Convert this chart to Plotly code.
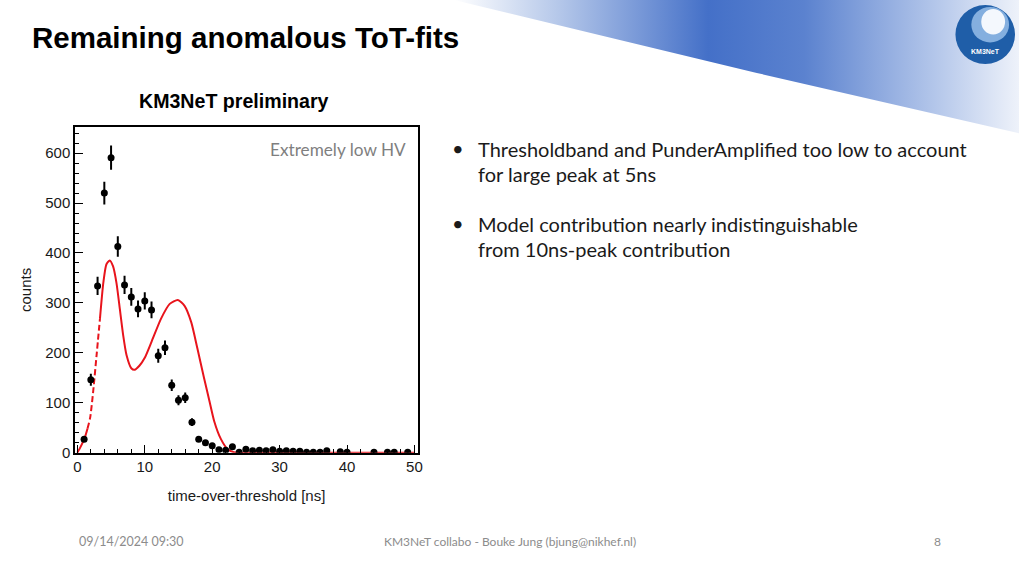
import plotly.graph_objects as go

# ---------------- data ----------------
tot_ns = [1, 2, 3, 4, 5, 6, 7, 8, 9, 10, 11, 12, 13, 14, 15, 16, 17, 18, 19, 20,
          21, 22, 23, 24, 25, 26, 27, 28, 29, 30, 31, 32, 33, 34, 35, 36, 37, 39,
          40, 44, 46, 47, 49]
counts = [27, 146, 334, 520, 591, 413, 336, 312, 288, 304, 286, 194, 210, 135,
          105, 110, 61, 27, 20, 14, 6, 5, 12, 1, 7, 4, 5, 4, 6, 3, 4, 3, 3, 1, 1,
          1, 4, 2, 1, 1, 1, 1, 1]
count_err = [5.2, 12.1, 18.3, 22.8, 24.3, 20.3, 18.3, 17.7, 17.0, 17.4, 16.9,
             13.9, 14.5, 11.6, 10.2, 10.5, 7.8, 5.2, 4.5, 3.7, 2.4, 2.2, 3.5, 1.0,
             2.6, 2.0, 2.2, 2.0, 2.4, 1.7, 2.0, 1.7, 1.7, 1.0, 1.0, 1.0, 2.0, 1.4,
             1.0, 1.0, 1.0, 1.0, 1.0]

fit_x = [0, 0.5, 1.1, 1.5, 1.9, 2.35, 2.85, 3.35, 3.85, 4.3, 4.8, 5.3, 5.8, 6.3,
         6.8, 7.3, 8.0, 8.5, 9.2, 10.0, 11.0, 12.4, 13.7, 14.9, 15.9, 16.9, 17.8,
         18.8, 19.6, 20.3, 21.3, 22.3, 23.2, 24.0, 30.0, 40.0, 50.0]
fit_y = [0, 12, 30, 48, 70, 123, 195, 268, 340, 377, 385, 373, 340, 288, 235,
         195, 169, 166, 174, 190, 222, 268, 298, 306, 294, 261, 209, 149, 103,
         63, 27, 7, 1, 0, 0, 0, 0]

x_ticks = [0, 10, 20, 30, 40, 50]
y_ticks = [0, 100, 200, 300, 400, 500, 600]

W, H = 1024, 576
FONT = "Liberation Sans, Arial, sans-serif"
BODY = "Lato, Noto Sans, sans-serif"
RED = "#e8141c"

fig = go.Figure()

# fit curve: solid / dashed (steep rise) / solid
i1, i2 = 3, 7
seg = [(0, i1 + 1, "solid"), (i1, i2 + 1, "6px,3px"), (i2, len(fit_x), "solid")]
for a, b, d in seg:
    fig.add_trace(go.Scatter(
        x=fit_x[a:b], y=fit_y[a:b], mode="lines",
        line=dict(color=RED, width=2, dash=d, shape="spline", smoothing=0.6),
        hoverinfo="skip", showlegend=False, xaxis="x", yaxis="y"))

# data points
fig.add_trace(go.Scatter(
    x=tot_ns, y=counts, mode="markers",
    marker=dict(color="black", size=7),
    error_y=dict(type="data", array=count_err, color="black", thickness=2, width=0),
    showlegend=False, xaxis="x", yaxis="y"))

# ---------- decoration (page coordinates) ----------
sw_x = [455, 1024, 1024, 900, 760, 620, 455]
sw_y = [0, 0, 135, 106, 74, 40, 0]
fig.add_trace(go.Scatter(
    x=sw_x, y=sw_y, mode="lines", fill="toself",
    line=dict(width=0, color="rgba(0,0,0,0)"),
    fillgradient=dict(type="horizontal",
                      colorscale=[[0, "rgba(255,255,255,1)"],
                                  [0.18, "#b7c9ea"],
                                  [0.45, "#4470c8"],
                                  [0.62, "#5b82cf"],
                                  [0.85, "#b3c6ea"],
                                  [1, "#eef2fa"]]),
    hoverinfo="skip", showlegend=False, xaxis="x2", yaxis="y2"))

fig.update_layout(
    autosize=True,
    margin=dict(l=0, r=0, t=0, b=0, pad=0),
    paper_bgcolor="white", plot_bgcolor="rgba(0,0,0,0)",
    showlegend=False,
    xaxis=dict(
        domain=[73.5 / W, 419 / W], range=[-0.35, 50.55],
        tickvals=x_ticks, ticktext=[str(v) for v in x_ticks],
        ticks="inside", ticklen=8, tickwidth=1, tickcolor="black",
        minor=dict(dtick=2, ticks="inside", ticklen=4, tickcolor="black", tickwidth=1),
        showline=True, linecolor="black", linewidth=1.5, mirror=True,
        showgrid=False, zeroline=False,
        tickfont=dict(family=FONT, size=15, color="#1a1a1a"),
        title=dict(text="time-over-threshold [ns]", standoff=16,
                   font=dict(family=FONT, size=15, color="#1a1a1a")),
        anchor="y"),
    yaxis=dict(
        domain=[1 - 459 / H, 1 - 129 / H], range=[0, 652],
        tickvals=y_ticks, ticktext=[str(v) for v in y_ticks],
        ticks="inside", ticklen=8, tickwidth=1, tickcolor="black",
        minor=dict(dtick=20, ticks="inside", ticklen=4, tickcolor="black", tickwidth=1),
        showline=True, linecolor="black", linewidth=1.5, mirror=True,
        showgrid=False, zeroline=False,
        tickfont=dict(family=FONT, size=15, color="#1a1a1a"),
        title=dict(text="counts", standoff=10,
                   font=dict(family=FONT, size=15, color="#1a1a1a")),
        anchor="x"),
    xaxis2=dict(domain=[0, 1], range=[0, W], visible=False, anchor="y2",
                fixedrange=True),
    yaxis2=dict(domain=[0, 1], range=[H, 0], visible=False, anchor="x2",
                fixedrange=True),
)

# logo
cx, cy, r = 990, 35, 30
fig.add_shape(type="circle", xref="x2", yref="y2", x0=cx - r, x1=cx + r,
              y0=cy - r, y1=cy + r, fillcolor="#1f5ea8", line=dict(width=0),
              layer="above")
fig.add_shape(type="circle", xref="x2", yref="y2", x0=cx - 14, x1=cx + 24,
              y0=cy - 28, y1=cy + 8, fillcolor="#8fb8e4", line=dict(width=0),
              layer="above", opacity=0.9)
fig.add_shape(type="circle", xref="x2", yref="y2", x0=cx - 4, x1=cx + 20,
              y0=cy - 26, y1=cy + 0, fillcolor="#f4f8fd", line=dict(width=0),
              layer="above")
fig.add_annotation(x=cx, y=cy + 17, xref="x2", yref="y2", text="<b>KM3NeT</b>",
                   showarrow=False, font=dict(family=FONT, size=7, color="white"))

# texts
def txt(x, y, s, size, color="black", family=BODY, anchor="left"):
    fig.add_annotation(x=x, y=y, xref="x2", yref="y2", text=s, showarrow=False,
                       xanchor=anchor, yanchor="middle",
                       font=dict(family=family, size=size, color=color))

txt(28, 38, "<b>Remaining anomalous ToT-fits</b>", 29.5, "black", FONT)
txt(234, 102, "<b>KM3NeT preliminary</b>", 19.6, "black", FONT, "center")
txt(409, 152, "Extremely low HV", 17.2, "#7f7f7f", BODY, "right")

txt(451, 150, "•", 20, "#1a1a1a")
txt(477, 151, "Thresholdband and PunderAmplified too low to account", 20, "#1a1a1a")
txt(477, 176, "for large peak at 5ns", 20, "#1a1a1a")
txt(451, 226, "•", 20, "#1a1a1a")
txt(477, 227, "Model contribution nearly indistinguishable", 20, "#1a1a1a")
txt(477, 252, "from 10ns-peak contribution", 20, "#1a1a1a")

txt(130, 549, "09/14/2024 09:30", 12.5, "#8c8c8c", BODY, "center")
txt(511, 549, "KM3NeT collabo - Bouke Jung (bjung@nikhef.nl)", 12, "#8c8c8c", BODY, "center")
txt(942, 549, "8", 12, "#8c8c8c", BODY, "center")

post = (
    "document.documentElement.style.margin='0px';"
    "document.documentElement.style.overflow='hidden';"
    "document.body.style.margin='0px';"
    "document.body.style.overflow='hidden';"
    "var gd=document.getElementById('{plot_id}');"
    "gd.style.position='fixed';gd.style.left='0px';gd.style.top='0px';"
    "gd.style.width='100vw';gd.style.height='100vh';"
    "Plotly.Plots.resize(gd);"
)
fig.write_html("out.html", config={"displayModeBar": False, "responsive": True},
               default_width="100vw", default_height="100vh", post_script=post)
